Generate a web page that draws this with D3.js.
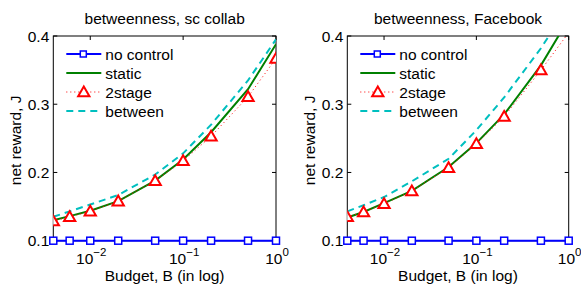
<!DOCTYPE html>
<html>
<head>
<meta charset="utf-8">
<script src="https://cdn.jsdelivr.net/npm/d3@7"></script>
<style>
  body { margin: 0; background: #fff; }
  text { font-family: "Liberation Sans", Arial, sans-serif; fill: #000; }
</style>
</head>
<body>
<div id="chart-area"></div>
<script>
// Data
const budget = [0.004, 0.006, 0.01, 0.02, 0.05, 0.1, 0.2, 0.5, 1];
const xTicks = [0.01, 0.1, 1];
const yTicks = [0.1, 0.2, 0.3, 0.4];
const seriesNames = ['no control', 'static', '2stage', 'between'];

const collabNoControl = [0.1, 0.1, 0.1, 0.1, 0.1, 0.1, 0.1, 0.1, 0.1];
const collabStatic = [0.130, 0.136, 0.144, 0.158, 0.188, 0.219, 0.259, 0.322, 0.388];
const collab2stage = [0.129, 0.135, 0.143, 0.158, 0.188, 0.217, 0.253, 0.311, 0.367];
const collabBetween = [0.135, 0.143, 0.153, 0.167, 0.197, 0.228, 0.270, 0.335, 0.395];

const fbNoControl = [0.1, 0.1, 0.1, 0.1, 0.1, 0.1, 0.1, 0.1, 0.1];
const fbStatic = [0.134, 0.142, 0.155, 0.173, 0.208, 0.243, 0.285, 0.357, 0.425];
const fb2stage = [0.135, 0.142, 0.154, 0.173, 0.207, 0.242, 0.282, 0.350, 0.405];
const fbBetween = [0.143, 0.152, 0.164, 0.187, 0.220, 0.262, 0.310, 0.382, 0.445];

// Constants
const W = 581, H = 286;
const TOP = 36, BOTTOM = 240.7;
const FONT = 15.5;
const BLUE = '#0000ff', GREEN = '#008000', RED = '#ff0000', CYAN = '#00bfbf';

const svg = d3.select('#chart-area')
    .append('svg')
    .attr('width', W)
    .attr('height', H);

function drawPanel(id, left, right, title, data) {
    const x = d3.scaleLog().domain([0.004, 1]).range([left, right]);
    const y = d3.scaleLinear().domain([0.1, 0.4]).range([BOTTOM, TOP]);
    const g = svg.append('g');

    g.append('clipPath').attr('id', 'clip' + id)
        .append('rect')
        .attr('x', left).attr('y', TOP)
        .attr('width', right - left).attr('height', BOTTOM - TOP);

    // box + ticks
    g.append('rect')
        .attr('x', left).attr('y', TOP)
        .attr('width', right - left).attr('height', BOTTOM - TOP)
        .attr('fill', 'none').attr('stroke', '#000').attr('stroke-width', 1);

    yTicks.forEach(t => {
        g.append('line').attr('x1', left).attr('x2', left + 4)
            .attr('y1', y(t)).attr('y2', y(t)).attr('stroke', '#000');
        g.append('line').attr('x1', right).attr('x2', right - 4)
            .attr('y1', y(t)).attr('y2', y(t)).attr('stroke', '#000');
        g.append('text')
            .attr('x', left - 4).attr('y', y(t) + 5.5)
            .attr('text-anchor', 'end')
            .attr('font-size', FONT)
            .text(d3.format('.1f')(t));
    });

    xTicks.forEach(t => {
        g.append('line').attr('x1', x(t)).attr('x2', x(t))
            .attr('y1', BOTTOM).attr('y2', BOTTOM - 4).attr('stroke', '#000');
        g.append('line').attr('x1', x(t)).attr('x2', x(t))
            .attr('y1', TOP).attr('y2', TOP + 4).attr('stroke', '#000');
        const lbl = g.append('text')
            .attr('x', x(t) + 1).attr('y', 264)
            .attr('text-anchor', 'middle')
            .attr('font-size', FONT);
        lbl.append('tspan').text('10');
        lbl.append('tspan').attr('dy', -8).attr('font-size', 11.5)
            .text(t === 1 ? '0' : '\u2212' + Math.round(-Math.log10(t)));
    });

    // title and labels
    svg.append('text')
        .attr('x', (left + right) / 2).attr('y', 24)
        .attr('text-anchor', 'middle').attr('font-size', FONT)
        .text(title);
    svg.append('text')
        .attr('x', (left + right) / 2).attr('y', 281)
        .attr('text-anchor', 'middle').attr('font-size', FONT)
        .text('Budget, B (in log)');
    svg.append('text')
        .attr('transform', `translate(${left - 32}, ${(TOP + BOTTOM) / 2 + 2}) rotate(-90)`)
        .attr('text-anchor', 'middle').attr('font-size', FONT)
        .text('net reward, J');

    const line = d3.line().x((d, i) => x(budget[i])).y(d => y(d));
    const plot = g.append('g').attr('clip-path', `url(#clip${id})`);

    plot.append('path').datum(data.static)
        .attr('d', line).attr('fill', 'none')
        .attr('stroke', GREEN).attr('stroke-width', 2);
    plot.append('path').datum(data.two)
        .attr('d', line).attr('fill', 'none')
        .attr('stroke', RED).attr('stroke-width', 1)
        .attr('stroke-dasharray', '1,3');
    plot.append('path').datum(data.between)
        .attr('d', line).attr('fill', 'none')
        .attr('stroke', CYAN).attr('stroke-width', 2)
        .attr('stroke-dasharray', '7,5');

    const tri = d3.symbol().type(d3.symbolTriangle).size(55);
    plot.selectAll('.tri').data(data.two).enter()
        .filter(d => d <= 0.4)
        .append('path')
        .attr('d', tri)
        .attr('transform', (d, i) => `translate(${x(budget[i])}, ${y(d) + 1})`)
        .attr('fill', '#fff').attr('stroke', RED).attr('stroke-width', 2);

    g.append('path').datum(data.none)
        .attr('d', line).attr('fill', 'none')
        .attr('stroke', BLUE).attr('stroke-width', 2);
    g.selectAll('.sq').data(data.none).enter()
        .append('rect')
        .attr('x', (d, i) => x(budget[i]) - 3.5)
        .attr('y', d => y(d) - 3.5)
        .attr('width', 7).attr('height', 7)
        .attr('fill', '#fff').attr('stroke', BLUE).attr('stroke-width', 1.5);

    // legend
    const lx = left + 13, ly = [54, 73, 92, 111];
    const lg = g.append('g');
    lg.append('line').attr('x1', lx).attr('x2', lx + 35)
        .attr('y1', ly[0]).attr('y2', ly[0]).attr('stroke', BLUE).attr('stroke-width', 2);
    lg.append('rect').attr('x', lx + 14).attr('y', ly[0] - 3)
        .attr('width', 6).attr('height', 6)
        .attr('fill', '#fff').attr('stroke', BLUE).attr('stroke-width', 1.5);
    lg.append('line').attr('x1', lx).attr('x2', lx + 35)
        .attr('y1', ly[1]).attr('y2', ly[1]).attr('stroke', GREEN).attr('stroke-width', 2);
    lg.append('line').attr('x1', lx).attr('x2', lx + 35)
        .attr('y1', ly[2]).attr('y2', ly[2]).attr('stroke', RED).attr('stroke-width', 1)
        .attr('stroke-dasharray', '1,3');
    lg.append('path').attr('d', tri)
        .attr('transform', `translate(${lx + 17.5}, ${ly[2] + 1})`)
        .attr('fill', '#fff').attr('stroke', RED).attr('stroke-width', 2);
    lg.append('line').attr('x1', lx).attr('x2', lx + 35)
        .attr('y1', ly[3]).attr('y2', ly[3]).attr('stroke', CYAN).attr('stroke-width', 2)
        .attr('stroke-dasharray', '7,5');
    seriesNames.forEach((n, i) => {
        lg.append('text').attr('x', lx + 39).attr('y', ly[i] + 5.5)
            .attr('font-size', FONT).text(n);
    });
}

drawPanel('a', 53.3, 276, 'betweenness, sc collab', {
    none: collabNoControl, static: collabStatic, two: collab2stage, between: collabBetween
});
drawPanel('b', 347.3, 568.7, 'betweenness, Facebook', {
    none: fbNoControl, static: fbStatic, two: fb2stage, between: fbBetween
});
</script>
</body>
</html>
